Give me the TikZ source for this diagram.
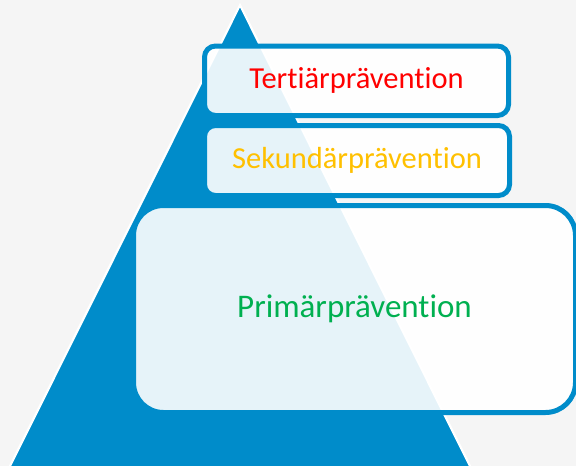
\documentclass[tikz,border=0pt]{standalone}
\usepackage{fontspec}
\setmainfont{Carlito}[Ligatures={NoCommon}]
\definecolor{bgc}{RGB}{245,245,245}
\definecolor{pblue}{RGB}{0,140,202}
\definecolor{tred}{RGB}{255,0,0}
\definecolor{tyellow}{RGB}{255,192,0}
\definecolor{tgreen}{RGB}{0,176,80}
\begin{document}
\begin{tikzpicture}[x=1pt,y=-1pt,
  levelbox/.style={draw=pblue, line width=5pt, fill=white, fill opacity=0.9,
    text opacity=1, inner sep=0pt, align=center},
  smallbox/.style={levelbox, rounded corners=11pt, font=\fontsize{30.5}{36}\selectfont},
  bigbox/.style={levelbox, rounded corners=30pt, font=\fontsize{33}{40}\selectfont}]
\useasboundingbox (0,0) rectangle (576,466);
\clip (0,0) rectangle (576,466);
\fill[bgc] (0,0) rectangle (576,466);
\draw[fill=pblue, draw=white, line width=2.2pt] (240,5) -- (477,480) -- (3,480) -- cycle;
\node[smallbox, minimum width=304pt, minimum height=69.5pt, text=tred]
  (tert) at (356.5,80.75) {Tertiärprävention};
\node[smallbox, minimum width=305pt, minimum height=70pt, text=tyellow]
  (sek) at (357,160.5) {Sekundärprävention};
\node[bigbox, minimum width=442pt, minimum height=207pt, text=tgreen]
  (prim) at (354.5,309) {Primärprävention};
\end{tikzpicture}
\end{document}
